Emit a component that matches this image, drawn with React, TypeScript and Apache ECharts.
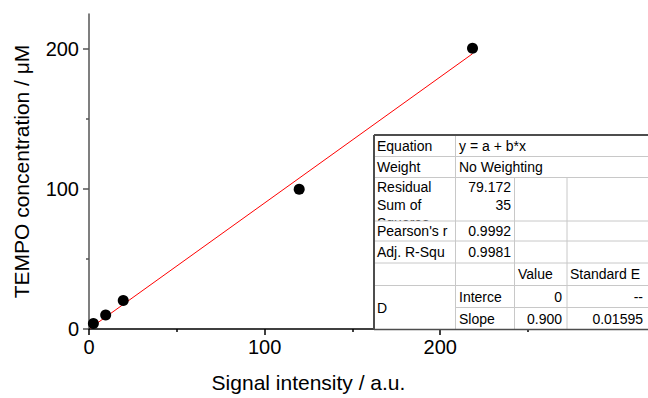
import React, { useEffect, useRef } from "react";
import * as echarts from "echarts";

// ---- data ----
const signalX = [2.5, 9.5, 19.5, 119.7, 218.4];
const concY = [4, 10, 20.3, 99.8, 200.5];
const fitX = [0.6, 218.4];
const fitY = [0.54, 196.6];
const xMajorTicks = [0, 100, 200];
const xMinorTicks = [50, 150, 250];
const yMajorTicks = [0, 100, 200];
const yMinorTicks = [50, 150];

const tblLabels = ["Equation", "Weight", "Residual\nSum of\nSquares", "Pearson's r", "Adj. R-Squ"];
const tblValues = ["y = a + b*x", "No Weighting", "79.172\n35", "0.9992", "0.9981"];
const paramHeaders = ["Value", "Standard E"];
const paramGroup = "D";
const paramNames = ["Interce", "Slope"];
const paramValues = ["0", "0.900"];
const paramErrors = ["--", "0.01595"];

const FONT = "'Liberation Sans', Arial, sans-serif";

function buildTable() {
  const colX = [374, 455.5, 514.5, 567, 662];
  const rowY = [135, 156.5, 177.5, 221, 241, 263, 285.5, 307.5, 329.5];
  const Z = 100;
  const els: any[] = [];
  const txt = (z: number, x: number, y: number, text: string, align: string, vAlign = "middle", lh = 17) => ({
    type: "text",
    z,
    x,
    y,
    style: { text, fill: "#000", font: `14px ${FONT}`, align, verticalAlign: vAlign, lineHeight: lh },
  });
  const rowRect = (z: number, i: number, j = i + 1) => ({
    type: "rect",
    z,
    shape: { x: colX[0], y: rowY[i], width: colX[4] - colX[0], height: rowY[j] - rowY[i] },
    style: { fill: "#fff" },
  });
  // first five rows
  for (let i = 0; i < tblLabels.length; i++) {
    const zr = Z + i * 2;
    els.push(rowRect(zr, i));
    const mid = (rowY[i] + rowY[i + 1]) / 2;
    if (i === 2) {
      els.push(txt(zr + 1, 377, rowY[i] + 0.5, tblLabels[i], "left", "top", 17.8));
      els.push(txt(zr + 1, 511, rowY[i] + 0.5, tblValues[i], "right", "top", 17.8));
    } else {
      els.push(txt(zr + 1, 377, mid, tblLabels[i], "left"));
      els.push(txt(zr + 1, i < 2 ? 459 : 511, mid, tblValues[i], i < 2 ? "left" : "right"));
    }
  }
  // header row
  els.push(rowRect(Z + 20, 5));
  const hm = (rowY[5] + rowY[6]) / 2;
  els.push(txt(Z + 21, 518, hm, paramHeaders[0], "left"));
  els.push(txt(Z + 21, 570, hm, paramHeaders[1], "left"));
  // parameter rows
  els.push(rowRect(Z + 22, 6, 8));
  els.push(txt(Z + 23, 377, (rowY[6] + rowY[8]) / 2, paramGroup, "left"));
  for (let k = 0; k < paramNames.length; k++) {
    const m = (rowY[6 + k] + rowY[7 + k]) / 2;
    els.push(txt(Z + 23, 459, m, paramNames[k], "left"));
    els.push(txt(Z + 23, 562, m, paramValues[k], "right"));
    els.push(txt(Z + 23, 643, m, paramErrors[k], "right"));
  }
  // inner grid lines
  const light = { stroke: "#c8c8c8", lineWidth: 1 };
  const line = (x1: number, y1: number, x2: number, y2: number, style: any) => ({
    type: "line",
    z: Z + 40,
    shape: { x1, y1, x2, y2 },
    style,
  });
  for (let i = 1; i <= 6; i++) els.push(line(colX[0], rowY[i], colX[4], rowY[i], light));
  els.push(line(colX[1], rowY[7], colX[4], rowY[7], light));
  els.push(line(colX[1], rowY[0], colX[1], rowY[8], light));
  els.push(line(colX[2], rowY[2], colX[2], rowY[8], light));
  els.push(line(colX[3], rowY[2], colX[3], rowY[8], light));
  // frame
  const dark = { stroke: "#4d4d4d", lineWidth: 2 };
  els.push(line(colX[0], rowY[0], colX[4], rowY[0], dark));
  els.push(line(colX[0], rowY[0], colX[0], rowY[8], dark));
  els.push(line(colX[0], rowY[8], colX[4], rowY[8], { stroke: "#4d4d4d", lineWidth: 1.5 }));
  return els;
}

export default function App() {
  const ref = useRef<HTMLDivElement>(null);
  useEffect(() => {
    if (!ref.current) return;
    const chart = echarts.init(ref.current, null, { renderer: "svg" });
    const labelStyle = { color: "#000", fontSize: 20, fontFamily: FONT };
    chart.setOption({
      animation: false,
      backgroundColor: "#fff",
      grid: { left: 89, top: 14, width: 439, height: 320, containLabel: false },
      xAxis: [
        {
          type: "value",
          min: 0,
          max: 250,
          interval: 50,
          name: "Signal intensity / a.u.",
          nameLocation: "middle",
          nameGap: 43,
          nameTextStyle: { color: "#000", fontSize: 21, fontFamily: FONT },
          axisLine: { show: true, onZero: false, lineStyle: { color: "#000", width: 1.5 } },
          axisTick: { show: true, inside: false, length: 6, customValues: xMajorTicks, lineStyle: { color: "#000", width: 1.5 } },
          axisLabel: { ...labelStyle, margin: 8, customValues: xMajorTicks },
          splitLine: { show: false },
        },
        {
          type: "value",
          min: 0,
          max: 250,
          position: "bottom",
          axisLine: { show: false },
          axisTick: { show: true, length: 3, customValues: xMinorTicks, lineStyle: { color: "#000", width: 1.5 } },
          axisLabel: { show: false },
          splitLine: { show: false },
        },
      ],
      yAxis: [
        {
          type: "value",
          min: 0,
          max: 225,
          interval: 50,
          name: "TEMPO concentration / μM",
          nameLocation: "middle",
          nameGap: 57,
          nameTextStyle: { color: "#000", fontSize: 21, fontFamily: FONT },
          axisLine: { show: true, onZero: false, lineStyle: { color: "#555", width: 1.5 } },
          axisTick: { show: true, length: 6, customValues: yMajorTicks, lineStyle: { color: "#555", width: 1.5 } },
          axisLabel: { ...labelStyle, margin: 10, customValues: yMajorTicks },
          splitLine: { show: false },
        },
        {
          type: "value",
          min: 0,
          max: 225,
          position: "left",
          axisLine: { show: false },
          axisTick: { show: true, length: 3, customValues: yMinorTicks, lineStyle: { color: "#555", width: 1.5 } },
          axisLabel: { show: false },
          splitLine: { show: false },
        },
      ],
      series: [
        {
          type: "line",
          data: fitX.map((x, i) => [x, fitY[i]]),
          symbol: "none",
          lineStyle: { color: "#ff0000", width: 1 },
          z: 1,
        },
        {
          type: "scatter",
          data: signalX.map((x, i) => [x, concY[i]]),
          symbol: "circle",
          symbolSize: 11,
          itemStyle: { color: "#000", opacity: 1 },
          z: 3,
        },
      ],
      graphic: buildTable(),
    });
    return () => chart.dispose();
  }, []);
  return <div ref={ref} style={{ position: "fixed", left: 0, top: 0, width: 648, height: 398 }} />;
}
